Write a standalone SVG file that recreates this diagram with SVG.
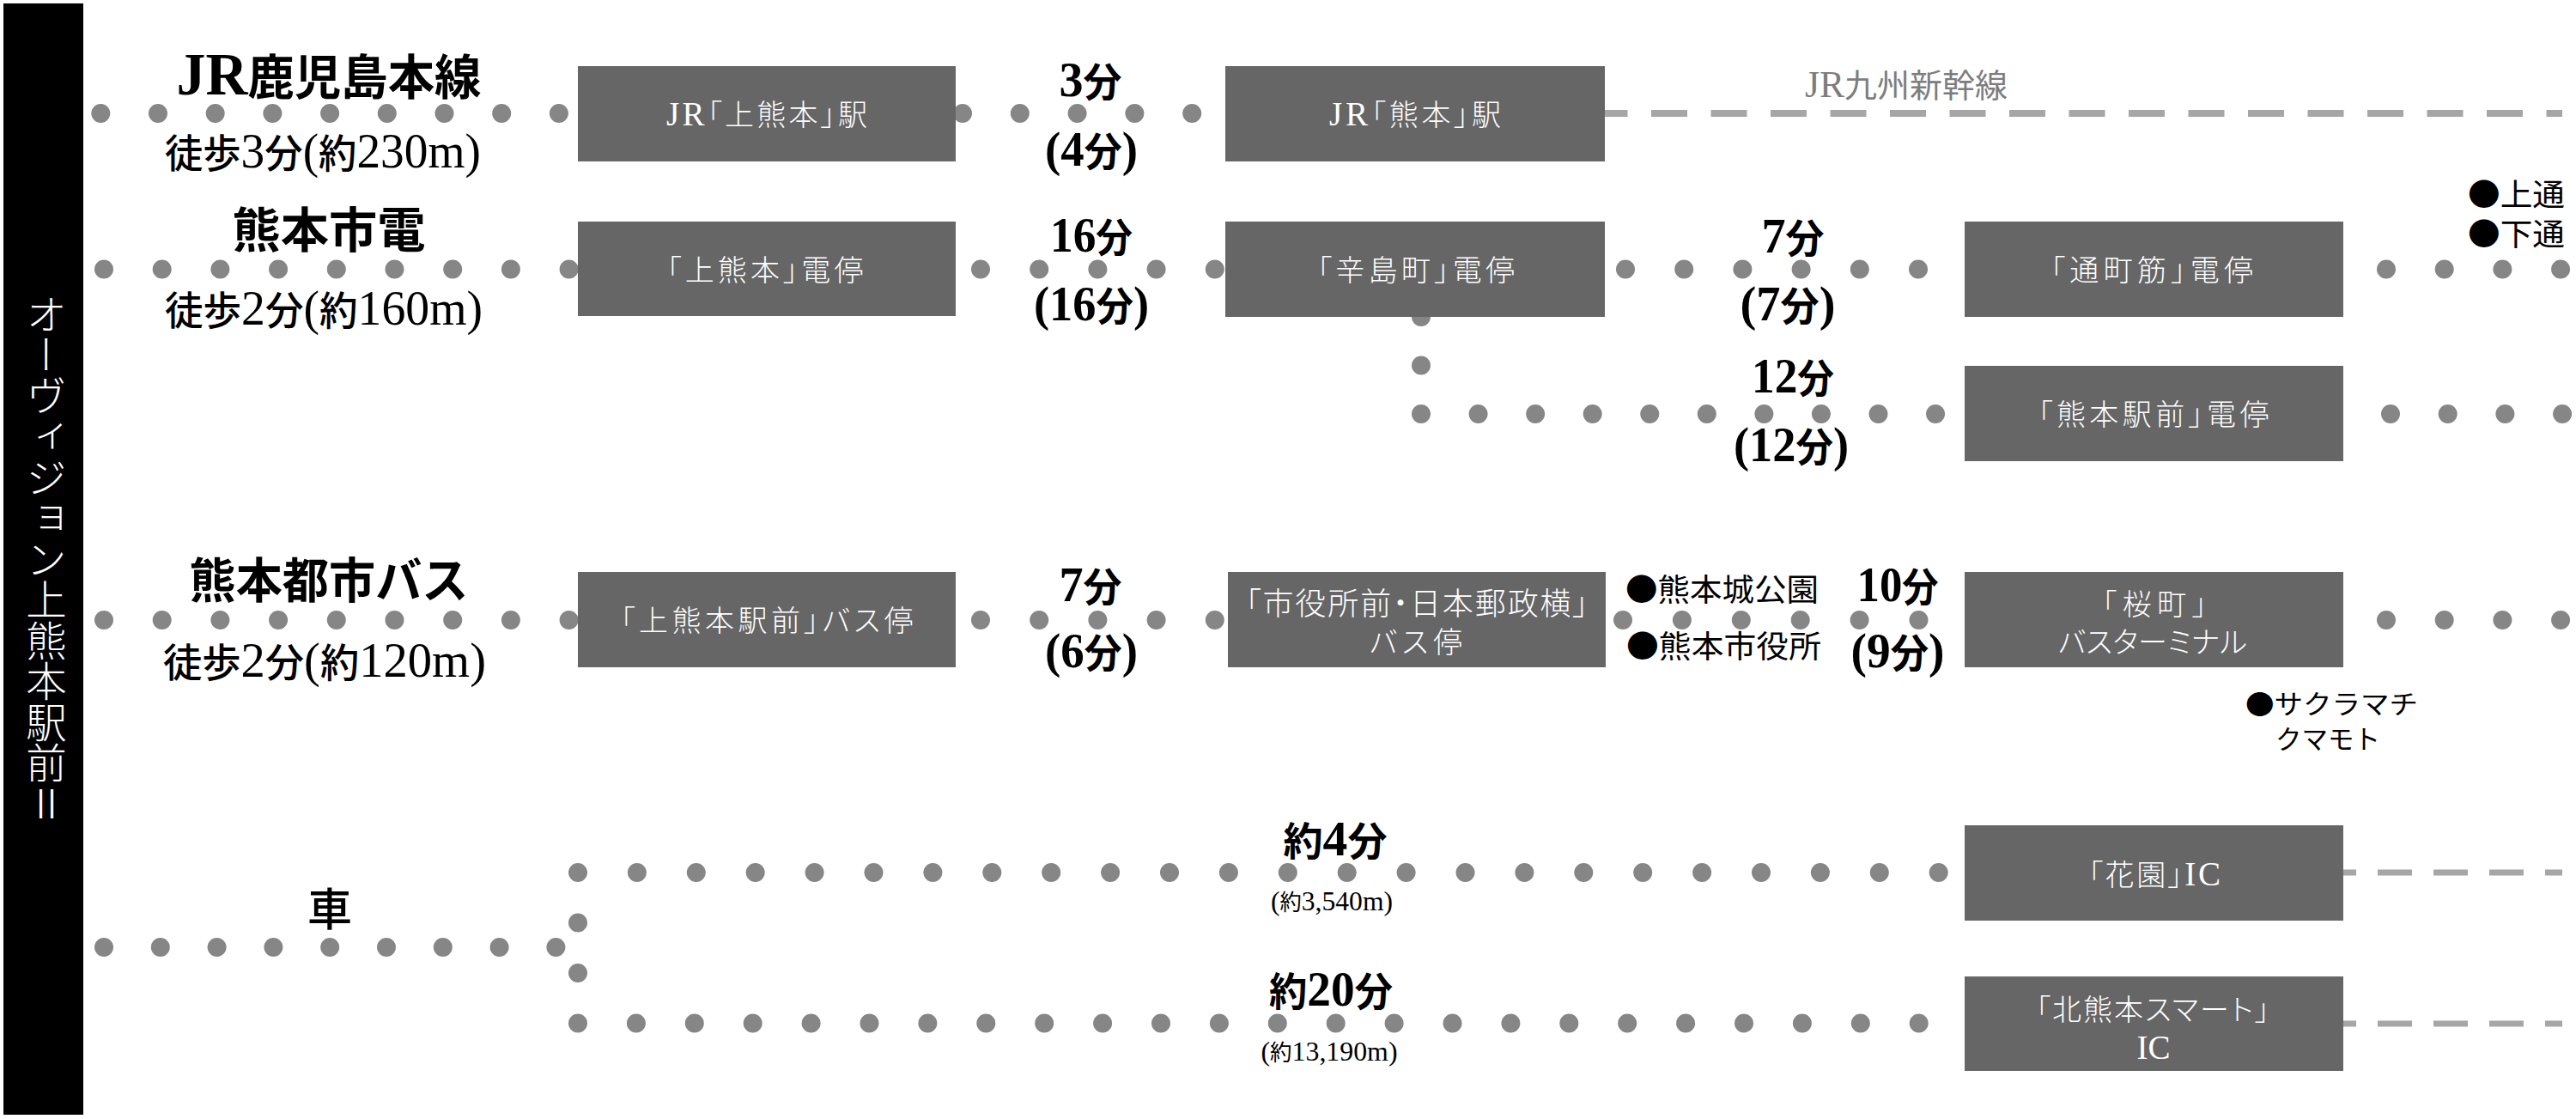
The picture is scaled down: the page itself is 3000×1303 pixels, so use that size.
<svg xmlns="http://www.w3.org/2000/svg" width="3000" height="1303" viewBox="0 0 3000 1303">
<style>
.j{font-family:"Noto Sans CJK JP","Noto Sans CJK SC",sans-serif}
.n{font-family:"Liberation Serif",serif;font-size:1.25em}
.nw{font-family:"Liberation Serif",serif;font-size:1.15em}
.ti{font-size:56px;font-weight:700;fill:#000}
.wk{font-size:46px;font-weight:500;fill:#000}
.tm{font-size:46px;font-weight:700;fill:#000}
.sm{font-size:26px;font-weight:400;fill:#000}
.lb{font-size:36px;font-weight:400;fill:#000}
.w{font-size:34px;font-weight:300;fill:#fff;font-feature-settings:"palt"}
.box{fill:#666}
.dot{fill:none;stroke:#868686;stroke-width:22;stroke-linecap:round}
.dash{fill:none;stroke:#a6a6a6}
</style>
<rect width="3000" height="1303" fill="#fff"/>
<g id="title-bar">
<rect x="4" y="4" width="93" height="1294" fill="#000"/>
<text class="j" x="54" y="342" font-size="47.5" font-weight="300" fill="#fff" style="writing-mode:vertical-rl">オーヴィジョン上熊本駅前Ⅱ</text>
</g>
<g id="connectors">
<path class="dash" stroke-width="8" stroke-dasharray="42 27.5" d="M1853.5 132H2984"/>
<path class="dash" stroke-width="7" stroke-dasharray="40 25" d="M2704 1016H2984"/>
<path class="dash" stroke-width="7" stroke-dasharray="40 25" d="M2704 1192H2984"/>
<path class="dot" stroke-dasharray="0 66.7" d="M117.3 132H651.5"/>
<path class="dot" stroke-dasharray="0 66.8" d="M1121 132H1388.7"/>
<path class="dot" stroke-dasharray="0 67.7" d="M121 313.5H663.2"/>
<path class="dot" stroke-dasharray="0 68.2" d="M1142 313.5H1415.3"/>
<path class="dot" stroke-dasharray="0 68.2" d="M1893 313.5H2234.5"/>
<path class="dot" stroke-dasharray="0 67.7" d="M2779 313.5H2982.6"/>
<path class="dot" stroke-dasharray="0 56.5" d="M1655 369V426"/>
<path class="dot" stroke-dasharray="0 66.56" d="M1655 482H2254.5"/>
<path class="dot" stroke-dasharray="0 66.7" d="M2784 482H2984.6"/>
<path class="dot" stroke-dasharray="0 67.7" d="M121 722H663.2"/>
<path class="dot" stroke-dasharray="0 68.2" d="M1142 722H1415.3"/>
<path class="dot" stroke-dasharray="0 68.9" d="M1890 722H2235"/>
<path class="dot" stroke-dasharray="0 67.7" d="M2779 722H2982.6"/>
<path class="dot" stroke-dasharray="0 65.8" d="M121 1103H647.9"/>
<path class="dot" stroke-dasharray="0 58.5" d="M673 1074.5V1133.5"/>
<path class="dot" stroke-dasharray="0 68.9" d="M673 1016H2258.2"/>
<path class="dot" stroke-dasharray="0 67.9" d="M673 1191.5H2235.2"/>
</g>
<g id="line-labels">
<text class="j ti" x="383" y="110" text-anchor="middle" textLength="355" lengthAdjust="spacingAndGlyphs"><tspan class="n">JR</tspan>鹿児島本線</text>
<text class="j wk" x="376" y="195" text-anchor="middle" textLength="368" lengthAdjust="spacingAndGlyphs">徒歩<tspan class="n">3</tspan>分<tspan class="n">(</tspan>約<tspan class="n">230m)</tspan></text>
<text class="j ti" x="383" y="288" text-anchor="middle" textLength="225" lengthAdjust="spacingAndGlyphs">熊本市電</text>
<text class="j wk" x="377" y="378" text-anchor="middle" textLength="370" lengthAdjust="spacingAndGlyphs">徒歩<tspan class="n">2</tspan>分<tspan class="n">(</tspan>約<tspan class="n">160m)</tspan></text>
<text class="j ti" x="383" y="696" text-anchor="middle" textLength="325" lengthAdjust="spacingAndGlyphs">熊本都市バス</text>
<text class="j wk" x="378" y="788" text-anchor="middle" textLength="376" lengthAdjust="spacingAndGlyphs">徒歩<tspan class="n">2</tspan>分<tspan class="n">(</tspan>約<tspan class="n">120m)</tspan></text>
<text class="j" x="384" y="1078" text-anchor="middle" font-size="52" font-weight="500">車</text>
<text class="j" x="2102" y="113" font-size="38" font-weight="400" fill="#7d7d7d" textLength="236" lengthAdjust="spacingAndGlyphs"><tspan class="nw">JR</tspan>九州新幹線</text>
</g>
<g id="time-labels">
<text class="j tm" x="1270" y="112" text-anchor="middle" textLength="73" lengthAdjust="spacingAndGlyphs"><tspan class="n">3</tspan>分</text>
<text class="j tm" x="1271" y="193" text-anchor="middle" textLength="108" lengthAdjust="spacingAndGlyphs"><tspan class="n">(4</tspan>分<tspan class="n">)</tspan></text>
<text class="j tm" x="1271" y="293" text-anchor="middle" textLength="96" lengthAdjust="spacingAndGlyphs"><tspan class="n">16</tspan>分</text>
<text class="j tm" x="1271" y="373" text-anchor="middle" textLength="134" lengthAdjust="spacingAndGlyphs"><tspan class="n">(16</tspan>分<tspan class="n">)</tspan></text>
<text class="j tm" x="2088" y="294" text-anchor="middle" textLength="73" lengthAdjust="spacingAndGlyphs"><tspan class="n">7</tspan>分</text>
<text class="j tm" x="2082" y="373" text-anchor="middle" textLength="111" lengthAdjust="spacingAndGlyphs"><tspan class="n">(7</tspan>分<tspan class="n">)</tspan></text>
<text class="j tm" x="2088" y="457" text-anchor="middle" textLength="96" lengthAdjust="spacingAndGlyphs"><tspan class="n">12</tspan>分</text>
<text class="j tm" x="2086" y="537" text-anchor="middle" textLength="134" lengthAdjust="spacingAndGlyphs"><tspan class="n">(12</tspan>分<tspan class="n">)</tspan></text>
<text class="j tm" x="1270" y="700" text-anchor="middle" textLength="73" lengthAdjust="spacingAndGlyphs"><tspan class="n">7</tspan>分</text>
<text class="j tm" x="1271" y="777" text-anchor="middle" textLength="108" lengthAdjust="spacingAndGlyphs"><tspan class="n">(6</tspan>分<tspan class="n">)</tspan></text>
<text class="j tm" x="2210" y="700" text-anchor="middle" textLength="95" lengthAdjust="spacingAndGlyphs"><tspan class="n">10</tspan>分</text>
<text class="j tm" x="2210" y="777" text-anchor="middle" textLength="109" lengthAdjust="spacingAndGlyphs"><tspan class="n">(9</tspan>分<tspan class="n">)</tspan></text>
<text class="j tm" x="1555" y="996" text-anchor="middle" textLength="121" lengthAdjust="spacingAndGlyphs">約<tspan class="n">4</tspan>分</text>
<text class="j sm" x="1551" y="1060" text-anchor="middle" textLength="142" lengthAdjust="spacingAndGlyphs"><tspan class="n">(</tspan>約<tspan class="n">3,540m)</tspan></text>
<text class="j tm" x="1550" y="1171" text-anchor="middle" textLength="144" lengthAdjust="spacingAndGlyphs">約<tspan class="n">20</tspan>分</text>
<text class="j sm" x="1548" y="1235" text-anchor="middle" textLength="159" lengthAdjust="spacingAndGlyphs"><tspan class="n">(</tspan>約<tspan class="n">13,190m)</tspan></text>
</g>
<g id="landmarks">
<text class="j lb" x="2874" y="240" font-size="35" textLength="113" lengthAdjust="spacingAndGlyphs">●上通</text>
<text class="j lb" x="2874" y="286" font-size="35" textLength="113" lengthAdjust="spacingAndGlyphs">●下通</text>
<text class="j lb" x="1893" y="700" textLength="225" lengthAdjust="spacingAndGlyphs">●熊本城公園</text>
<text class="j lb" x="1894" y="766" textLength="227" lengthAdjust="spacingAndGlyphs">●熊本市役所</text>
<text class="j lb" x="2615" y="831" style="font-size:31px" textLength="201" lengthAdjust="spacingAndGlyphs">●サクラマチ</text>
<text class="j lb" x="2650" y="872" style="font-size:31px" textLength="122" lengthAdjust="spacingAndGlyphs">クマモト</text>
</g>
<g id="node-kamikumamoto-jr">
<rect class="box" x="673" y="77" width="440" height="111"/>
<text class="j w" x="893" y="146" text-anchor="middle" textLength="234" lengthAdjust="spacing"><tspan class="nw">JR</tspan>「上熊本」駅</text>
</g>
<g id="node-kumamoto-jr">
<rect class="box" x="1427" y="77" width="442" height="111"/>
<text class="j w" x="1648" y="146" text-anchor="middle" textLength="200" lengthAdjust="spacing"><tspan class="nw">JR</tspan>「熊本」駅</text>
</g>
<g id="node-kamikumamoto-tram">
<rect class="box" x="673" y="258" width="440" height="110"/>
<text class="j w" x="891" y="327" text-anchor="middle" textLength="229" lengthAdjust="spacing">「上熊本」電停</text>
</g>
<g id="node-karashimacho">
<rect class="box" x="1427" y="258" width="442" height="111"/>
<text class="j w" x="1649" y="327" text-anchor="middle" textLength="230" lengthAdjust="spacing">「辛島町」電停</text>
</g>
<g id="node-torichosuji">
<rect class="box" x="2288" y="258" width="441" height="111"/>
<text class="j w" x="2506" y="327" text-anchor="middle" textLength="236" lengthAdjust="spacing">「通町筋」電停</text>
</g>
<g id="node-kumamotoekimae">
<rect class="box" x="2288" y="426" width="441" height="111"/>
<text class="j w" x="2508" y="495" text-anchor="middle" textLength="269" lengthAdjust="spacing">「熊本駅前」電停</text>
</g>
<g id="node-kamikumamotoekimae-bus">
<rect class="box" x="673" y="666" width="440" height="111"/>
<text class="j w" x="893" y="735" text-anchor="middle" textLength="341" lengthAdjust="spacing">「上熊本駅前」バス停</text>
</g>
<g id="node-shiyakushomae">
<rect class="box" x="1430" y="666" width="440" height="111"/>
<text class="j w" x="1650" y="716" text-anchor="middle" style="font-size:36px" textLength="399" lengthAdjust="spacing">「市役所前・日本郵政横」</text>
<text class="j w" x="1649" y="760" text-anchor="middle" textLength="108" lengthAdjust="spacing">バス停</text>
</g>
<g id="node-sakuramachi">
<rect class="box" x="2288" y="666" width="441" height="111"/>
<text class="j w" x="2509" y="716" text-anchor="middle" textLength="122" lengthAdjust="spacing">「桜町」</text>
<text class="j w" x="2507" y="760" text-anchor="middle" textLength="220" lengthAdjust="spacing">バスターミナル</text>
</g>
<g id="node-hanazono-ic">
<rect class="box" x="2288" y="961" width="441" height="111"/>
<text class="j w" x="2509" y="1031" text-anchor="middle" textLength="154" lengthAdjust="spacing">「花園」<tspan class="nw">IC</tspan></text>
</g>
<g id="node-kitakumamoto-ic">
<rect class="box" x="2288" y="1137" width="441" height="110"/>
<text class="j w" x="2507" y="1188" text-anchor="middle" textLength="272" lengthAdjust="spacing">「北熊本スマート」</text>
<text class="j w" x="2508" y="1233" text-anchor="middle"><tspan class="nw">IC</tspan></text>
</g>
</svg>
